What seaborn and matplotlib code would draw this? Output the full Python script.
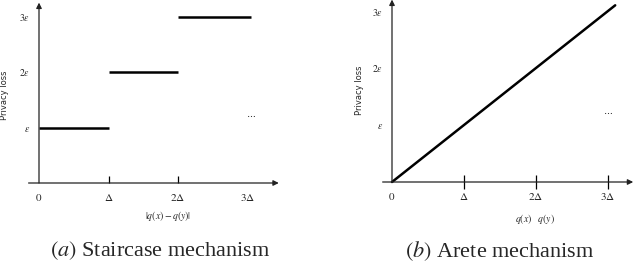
import numpy as np
import pandas as pd
import matplotlib as mpl
mpl.use("Agg")
import matplotlib.pyplot as plt
import seaborn as sns

sns.set_theme(style="white")
plt.rcParams["mathtext.fontset"] = "stix"
plt.rcParams["font.family"] = ["DejaVu Sans"]

# staircase levels (x in units of Delta, y in units of epsilon)
step_start = [0, 1, 2]
step_end = [1, 2, 3.05]
step_level = [1, 2, 3]

# arete: linear privacy loss
arete_x = [0, 3.1]
arete_y = [0, 3.1]

xtick_pos = [0, 1, 2, 3]
xtick_lab = ["$0$", r"$\Delta$", r"$2\Delta$", r"$3\Delta$"]
ytick_pos = [1, 2, 3]
ytick_lab = [r"$\epsilon$", r"$2\epsilon$", r"$3\epsilon$"]

W, H = 640, 270
fig = plt.figure(figsize=(6.4, 2.7), dpi=100)


def make_axes(x0, ux, y0, uy, left, right, top, bottom):
    # place an axes so data (0,0) lands at pixel (x0,y0)
    ax = fig.add_axes([left / W, 1 - bottom / H, (right - left) / W, (bottom - top) / H])
    ax.set_xlim((left - x0) / ux, (right - x0) / ux)
    ax.set_ylim((y0 - bottom) / uy, (y0 - top) / uy)
    for s in ax.spines.values():
        s.set_visible(False)
    ax.set_xticks(xtick_pos, xtick_lab, fontsize=8)
    ax.set_yticks(ytick_pos, ytick_lab, fontsize=7)
    ax.tick_params(length=0, pad=2)
    ax.grid(False)
    ax.patch.set_alpha(0)
    return ax


def draw_axes_arrows(ax, xmin, xmax, ymax):
    ap = dict(arrowstyle="-|>", lw=0.9, color="#222222", mutation_scale=8, shrinkA=0, shrinkB=0)
    ax.annotate("", xy=(xmax, 0), xytext=(xmin, 0), arrowprops=ap, annotation_clip=False)
    ax.annotate("", xy=(0, ymax), xytext=(0, 0), arrowprops=ap, annotation_clip=False)


# (a) staircase
ax1 = make_axes(39, 69.5, 183, 55.5, 33, 290, 2, 189)
draw_axes_arrows(ax1, -0.15, 3.45, 3.25)
ax1.hlines(step_level, step_start, step_end, color="black", lw=1.8)
ax1.vlines([1, 2], 0, 0.13, color="black", lw=0.9, clip_on=False)
ax1.text(3.05, 1.18, r"$\cdots$", fontsize=7, ha="center")
ax1.set_xlabel(r"$|q(x)-q(y)|$", fontsize=7)
ax1.xaxis.set_label_coords(168 / W, 1 - 209 / H, transform=fig.transFigure)
ax1.set_ylabel("Privacy loss", fontsize=6)
ax1.yaxis.set_label_coords(9 / W, 1 - 95 / H, transform=fig.transFigure)

# (b) arete
ax2 = make_axes(392, 72, 182, 57, 386, 640, 0, 188)
draw_axes_arrows(ax2, -0.13, 3.35, 3.2)
sns.lineplot(x=arete_x, y=arete_y, ax=ax2, color="black", lw=1.8)
ax2.vlines([1, 2, 3], -0.12, 0.12, color="black", lw=0.9, clip_on=False)
ax2.text(3.0, 1.18, r"$\cdots$", fontsize=7, ha="center")
ax2.set_xlabel(r"$q(x)\quad q(y)$", fontsize=7)
ax2.xaxis.set_label_coords(535 / W, 1 - 212 / H, transform=fig.transFigure)
ax2.set_ylabel("Privacy loss", fontsize=6)
ax2.yaxis.set_label_coords(364 / W, 1 - 90 / H, transform=fig.transFigure)

fig.text(160 / W, 1 - 251 / H, r"$(\mathit{a})$ Staircase mechanism", fontsize=16,
         ha="center", va="center", family="Liberation Serif")
fig.text(500 / W, 1 - 251 / H, r"$(\mathit{b})$ Arete mechanism", fontsize=16,
         ha="center", va="center", family="Liberation Serif")

fig.savefig("out.png", dpi=100)
